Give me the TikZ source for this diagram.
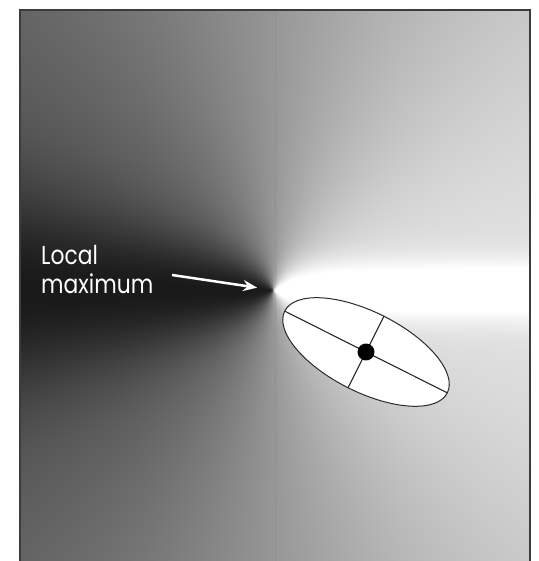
\documentclass[tikz,border=0pt]{standalone}
\usepackage{fontspec}
\setsansfont[FakeStretch=0.84]{Poppins}
\usetikzlibrary{arrows.meta,positioning}
\definecolor{rim}{HTML}{3C3C3C}
\definecolor{axisline}{HTML}{2A2A2A}
\pgfdeclarefunctionalshading{potential}{\pgfpoint{-253bp}{-271bp}}{\pgfpoint{257bp}{280bp}}{}{
  1 index abs 2 index sub 0.14 mul 30 add
  1 index exch div dup mul neg 2.71828 exch exp
  0.2 mul 0.29 add
  3 1 roll dup mul 1 index dup mul add 1 add sqrt div
  mul 0.59 add
  dup dup
}
\tikzset{
  frame/.style={draw=rim, line width=1.5bp},
  seam/.style={draw=black, opacity=0.05, line width=1bp},
  ell/.style={draw=axisline, fill=white, line width=1bp},
  ax/.style={draw=axisline, line width=1.1bp},
  lbl/.style={text=white, font=\sffamily\fontsize{26bp}{29bp}\selectfont, align=left, inner sep=0pt},
  pointer/.style={draw=white, line width=2.5bp, -{Stealth[length=14bp, width=11bp]}},
}
\begin{document}
\begin{tikzpicture}[x=1bp, y=1bp]
  \useasboundingbox (0,0) rectangle (539,561);
  \def\px{273} \def\py{271}

  % Field
  \node[inner sep=0pt, outer sep=0pt, anchor=south west] (field) at (20,0) {\pgfuseshading{potential}};
  \draw[seam] (275,0) -- (275,551);
  \draw[frame] (20,0) -- (20,551) -- (530,551) -- (530,0);

  % Ellipse
  \begin{scope}[shift={(366,209)}, rotate=-26.7]
    \draw[ell] (0,0) ellipse (91 and 40);
    \draw[ax] (-91,0) -- (91,0);
    \draw[ax] (0,-40) -- (0,40);
    \fill[black] (0,0) circle (8.5);
  \end{scope}

  % Label
  \coordinate (peak) at (\px,\py);
  \node[lbl, anchor=north west] (name) at (41,316) {Local\\maximum};
  \coordinate (tail) at (172,286);
  \draw[pointer, shorten >=16bp] (tail) -- (peak);
\end{tikzpicture}
\end{document}
